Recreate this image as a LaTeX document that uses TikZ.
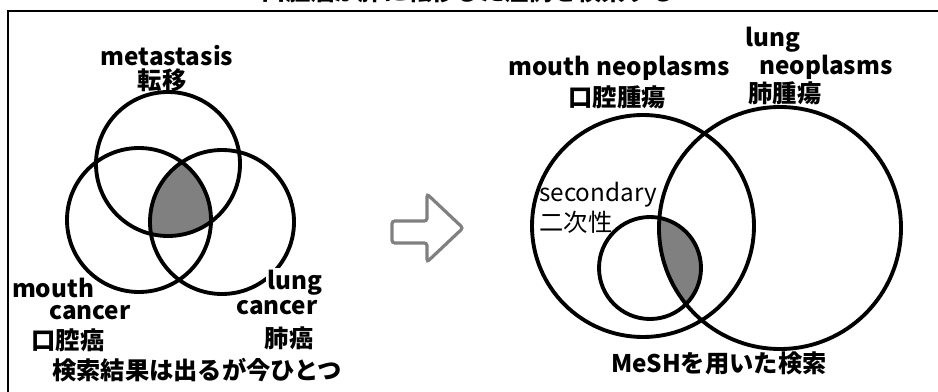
\documentclass[tikz,border=0pt]{standalone}
\usepackage{fontspec}
\setmainfont{Noto Sans CJK JP}
\usetikzlibrary{positioning}
\begin{document}
\begin{tikzpicture}[x=0.75pt,y=-0.75pt,node font=\fontsize{18.2}{20}\selectfont\bfseries,
    ring/.style={line width=2.9pt},
    lbl/.style={inner sep=0pt},
    hit/.style={fill=black!50}]
    \useasboundingbox (0,0) rectangle (938,392);
    % frame and title
    \node[lbl,anchor=south] (title) at (468,3) {口腔癌が肺に転移した症例を検索する};
    \draw[line width=1.6pt] (8,400) -- (8,11) -- (950,11);
    % left: three terms
    \begin{scope}
        \clip (168,164) circle (72);
        \clip (139,220) circle (72);
        \fill[hit] (222,222) circle (72);
    \end{scope}
    \foreach \cx/\cy in {168/164,139/220,222/222}
        \draw[ring] (\cx,\cy) circle (72);
    \node[lbl] (metaEn) at (167,56) {metastasis};
    \node[lbl] (metaJa) at (162,80) {転移};
    \node[lbl] (mouthEn) at (53,288) {mouth};
    \node[lbl] (mouthCa) at (90,313) {cancer};
    \node[lbl] (mouthJa) at (68,340) {口腔癌};
    \node[lbl,fill=white,inner sep=1.5pt] (lungEn) at (295,283) {lung};
    \node[lbl] (lungCa) at (277,308) {cancer};
    \node[lbl] (lungJa) at (289,338) {肺癌};
    \node[lbl] (leftNote) at (197,370) {検索結果は出るが今ひとつ};
    % arrow
    \draw[draw=black!50,line width=2.4pt,rounded corners=2pt]
        (392,221) -- (427,221) -- (427,194) -- (463,228) -- (427,262) -- (427,243) -- (392,243) -- cycle;
    % right: MeSH terms
    \begin{scope}
        \clip (650,268) circle (51);
        \clip (643,226) circle (111);
        \fill[hit] (780,228) circle (121);
    \end{scope}
    \foreach \cx/\cy/\r in {643/226/111,780/228/121,650/268/51}
        \draw[ring] (\cx,\cy) circle (\r);
    \node[lbl] (mneoEn) at (619,68) {mouth neoplasms};
    \node[lbl] (mneoJa) at (617,97) {口腔腫瘍};
    \node[lbl] (lneoEn) at (773,40) {lung};
    \node[lbl] (lneoNeo) at (826,67) {neoplasms};
    \node[lbl] (lneoJa) at (785,93) {肺腫瘍};
    \node[lbl,font=\fontsize{18.2}{20}\selectfont\mdseries] (secEn) at (598,195) {secondary};
    \node[lbl,font=\fontsize{18.2}{20}\selectfont\mdseries] (secJa) at (576,222) {二次性};
    \node[lbl] (rightNote) at (719,363) {MeSHを用いた検索};
\end{tikzpicture}
\end{document}
